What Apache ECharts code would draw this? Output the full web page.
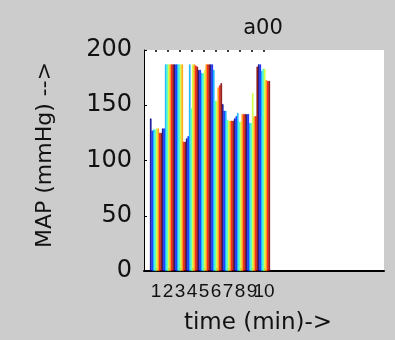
<!DOCTYPE html>
<html>
<head>
<meta charset="utf-8">
<script src="https://cdn.jsdelivr.net/npm/echarts@6/dist/echarts.min.js"></script>
<style>
  html, body { margin: 0; padding: 0; background: #cccccc; }
  #main { width: 395px; height: 340px; }
</style>
</head>
<body>
<div id="main"></div>
<script>
  // minutes 1..10, 8 readings per minute (jet colour order)
  var minutes = [1, 2, 3, 4, 5, 6, 7, 8, 9, 10]
  var s1 = [138, 129, 187, 120, 182, 187, 151, 138, 142, 187]
  var s2 = [127, 129, 187, 122, 182, 187, 145, 140, 142, 187]
  var s3 = [128, 187, 187, 187, 179, 182, 145, 143, 134, 181]
  var s4 = [128, 187, 187, 147, 179, 154, 137, 135, 134, 183]
  var s5 = [129, 187, 187, 187, 182, 154, 136, 135, 161, 183]
  var s6 = [129, 187, 187, 187, 187, 166, 136, 142, 140, 173]
  var s7 = [125, 187, 117, 186, 187, 168, 136, 142, 140, 172]
  var s8 = [125, 187, 117, 185, 187, 170, 136, 142, 185, 172]
  var yTicks = [0, 50, 100, 150, 200]
  // x limits 0 and 20 carry empty labels so the crowded 9 / 10 both stay
  var xLabelValues = [0].concat(minutes, [20])

  var readings = [s1, s2, s3, s4, s5, s6, s7, s8]
  var colors = ['#000090', '#0020ff', '#00b0ff', '#40ffbf', '#cfff30', '#ffa000', '#ff1000', '#800000']

  var chart = echarts.init(document.getElementById('main'))

  var series = readings.map(function(vals, i) {
    return {
      type: 'bar',
      data: vals.map(function(v, j) { return [minutes[j], v] }),
      itemStyle: { color: colors[i], borderColor: colors[i], borderWidth: 0.6 },
      barGap: '0%',
      barCategoryGap: '0%',
      animation: false
    }
  })

  chart.setOption({
    backgroundColor: '#cccccc',
    animation: false,
    title: {
      text: 'a00',
      left: 258,
      top: 13,
      textAlign: 'center',
      textStyle: { fontFamily: 'DejaVu Sans', fontSize: 21, fontWeight: 'normal', color: '#111' }
    },
    grid: {
      left: 144, top: 50, width: 240, height: 225,
      show: true, backgroundColor: '#ffffff', borderWidth: 0
    },
    xAxis: [{
      type: 'value', min: 0, max: 20, interval: 1,
      name: 'time (min)->',
      nameLocation: 'middle',
      nameGap: 41,
      nameTextStyle: { fontFamily: 'DejaVu Sans', fontSize: 23, color: '#111', padding: [0, 12, 0, 0] },
      axisLine: { lineStyle: { color: '#000', width: 2 } },
      axisTick: { inside: true, length: 3, customValues: minutes, lineStyle: { color: '#000' } },
      axisLabel: {
        customValues: xLabelValues, margin: 11, color: '#111',
        formatter: function(v) { return minutes.indexOf(v) >= 0 ? String(v) : '' },
        fontFamily: "'Liberation Sans Narrow', 'Liberation Sans'", fontSize: 19
      },
      splitLine: { show: false }
    }, {
      type: 'value', min: 0, max: 20, interval: 1, position: 'top',
      axisLine: { show: false },
      axisTick: { show: true, inside: true, length: 2, customValues: minutes, lineStyle: { color: '#000', width: 1.5 } },
      axisLabel: { show: false, customValues: minutes },
      splitLine: { show: false }
    }],
    yAxis: {
      type: 'value', min: 0, max: 200, interval: 50,
      name: 'MAP (mmHg) -->',
      nameLocation: 'middle',
      nameRotate: 90,
      nameGap: 88,
      nameTextStyle: { fontFamily: 'DejaVu Sans', fontSize: 22, color: '#111', padding: [0, 0, 0, 11] },
      axisLine: { show: true, lineStyle: { color: '#000', width: 1 } },
      axisTick: { show: true, inside: true, length: 3, lineStyle: { color: '#000' } },
      axisLabel: {
        margin: 12, color: '#111', padding: [0, 0, 5, 0],
        fontFamily: 'DejaVu Sans', fontSize: 24,
        customValues: yTicks
      },
      splitLine: { show: false }
    },
    series: series
  })
</script>
</body>
</html>
